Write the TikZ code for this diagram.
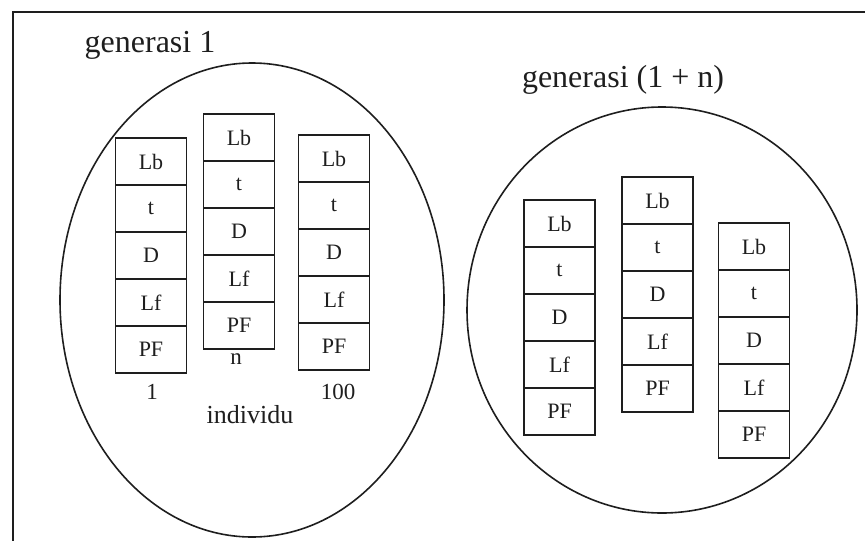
\documentclass[tikz,border=0pt]{standalone}
\usepackage{fontspec}
\setmainfont{Liberation Serif}
\usepackage{tikz}
\usetikzlibrary{positioning}
\definecolor{ink}{HTML}{1E1E1E}

\begin{document}
\begin{tikzpicture}[
    x=0.5pt, y=-0.5pt,
    line width=0.8pt,
    color=ink
  ]
  \tikzset{
    cell/.style={draw=ink, minimum width=35.5pt, minimum height=23.5pt, inner sep=0pt, outer sep=0pt, font=\fontsize{11}{13}\selectfont},
    title/.style={font=\fontsize{16}{19}\selectfont},
    tag/.style={font=\fontsize{11.5}{14}\selectfont}
  }

  \useasboundingbox (0,0) rectangle (865,540);

  % frame, running out past the page
  \draw (13,560) -- (13,12) -- (880,12);

  % the two populations
  \draw (252,300) ellipse [x radius=96pt, y radius=118.5pt];
  \draw (662,310) ellipse [x radius=97.5pt, y radius=101.5pt];

  \node (gen1) [title] at (150,45) {generasi 1};
  \node (genn) [title] at (623,80) {generasi (1 + n)};

  % one chromosome per individual
  \foreach \id/\x/\y in {ia/151/138, ib/239/114, ic/334/135, id/559.5/200, ie/657.5/177, if/754/223} {
    \node (\id-lb) [cell, anchor=north] at (\x,\y) {Lb};
    \node (\id-t) [cell, below=0pt of \id-lb] {t};
    \node (\id-d) [cell, below=0pt of \id-t] {D};
    \node (\id-lf) [cell, below=0pt of \id-d] {Lf};
    \node (\id-pf) [cell, below=0pt of \id-lf] {PF};
  }

  \node (lbl-n) [tag] at (236,359) {n};
  \node (lbl-1) [tag] at (152,392) {1};
  \node (lbl-100) [tag] at (338,392) {100};
  \node (indiv) [font=\fontsize{13}{16}\selectfont] at (250,415) {individu};
\end{tikzpicture}
\end{document}
